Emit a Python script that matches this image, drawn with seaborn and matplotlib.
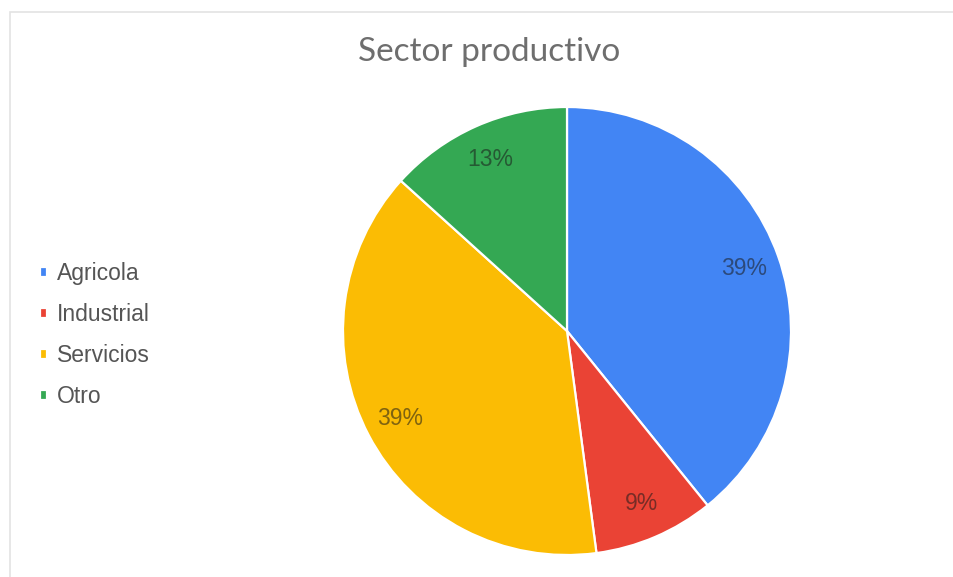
import matplotlib
matplotlib.use("Agg")
import matplotlib.pyplot as plt
import seaborn as sns
from matplotlib.patches import Rectangle

categories = ["Agricola", "Industrial", "Servicios", "Otro"]
values = [39.2, 8.7, 38.8, 13.3]
colors = ["#4285f4", "#ea4335", "#fbbc04", "#34a853"]
title = "Sector productivo"

sns.set_theme(style="white")
plt.rcParams['font.family'] = ['Liberation Sans', 'DejaVu Sans']

W, H = 954, 577
fig = plt.figure(figsize=(W / 100, H / 100), dpi=100)
fig.patch.set_facecolor("white")

cx, cy, r = 567, 331, 224
ax = fig.add_axes([(cx - r) / W, (H - cy - r) / H, 2 * r / W, 2 * r / H])
wedges, texts, autotexts = ax.pie(
    values, colors=sns.color_palette(colors), startangle=90, counterclock=False,
    radius=1, autopct=lambda p: f"{p:.0f}%", pctdistance=0.84,
    wedgeprops=dict(edgecolor="white", linewidth=1.6),
    textprops=dict(fontsize=16.5, color="#1a1a1a", alpha=0.55),
)
ax.set_xlim(-1, 1)
ax.set_ylim(-1, 1)
ax.set_aspect("equal")
ax.axis("off")

fig.text(489 / W, 1 - 52 / H, title, ha="center", va="center",
         fontsize=24, color="#6e6e6e", family=["Lato", "DejaVu Sans"], fontweight="normal")

leg = fig.legend(wedges, categories, loc="upper left",
                 bbox_to_anchor=(31 / W, 1 - 253 / H), frameon=False,
                 fontsize=16.5, handlelength=0.3, handleheight=0.3,
                 handletextpad=0.45, labelspacing=0.78, borderaxespad=0)
for t in leg.get_texts():
    t.set_color("#555555")

fig.add_artist(Rectangle((10 / W, -0.01), 1.0, 1 - 12 / H + 0.01, transform=fig.transFigure,
                         fill=False, edgecolor="#e3e3e3", linewidth=1.2))

fig.savefig("out.png", dpi=100, facecolor="white")
